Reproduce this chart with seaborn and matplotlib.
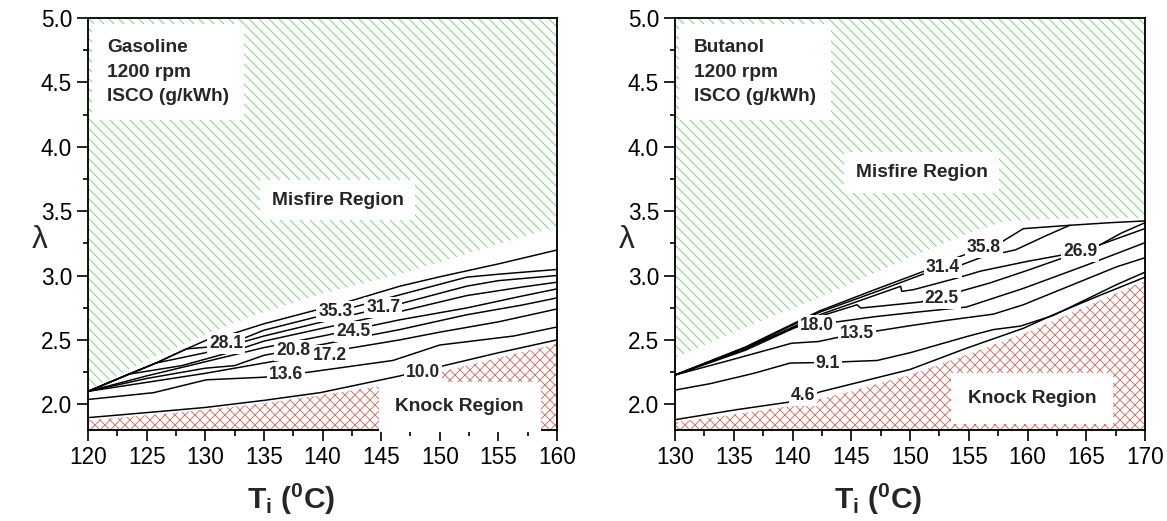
import numpy as np
import pandas as pd
import matplotlib
matplotlib.use("Agg")
import matplotlib.pyplot as plt
from matplotlib.ticker import MultipleLocator
import seaborn as sns

# ---------------- Gasoline panel data ----------------
gas_l1_x = [120, 123.5, 125.8, 128.4, 130.4, 132.4, 135, 142.3, 146.6, 150, 155, 160]
gas_l1_y = [2.10, 2.234, 2.32, 2.43, 2.51, 2.55, 2.625, 2.80, 2.917, 2.99, 3.09, 3.198]
gas_l2_x = [120, 123.5, 125.8, 128.4, 131, 133.5, 135, 140, 146.6, 152.3, 155, 160]
gas_l2_y = [2.10, 2.234, 2.32, 2.43, 2.45, 2.52, 2.575, 2.69, 2.85, 2.987, 3.01, 3.047]
gas_l3_x = [120, 123.5, 125.8, 130, 135, 140, 146.6, 152.3, 155, 160]
gas_l3_y = [2.10, 2.234, 2.32, 2.40, 2.53, 2.64, 2.78, 2.917, 2.96, 3.0]
gas_l4_x = [120, 123.5, 128, 132, 135, 140, 146.6, 152.3, 157, 160]
gas_l4_y = [2.10, 2.234, 2.30, 2.40, 2.49, 2.59, 2.72, 2.844, 2.91, 2.948]
gas_l5_x = [120, 125, 130, 135, 140, 146.6, 152.3, 157, 160]
gas_l5_y = [2.10, 2.22, 2.33, 2.44, 2.53, 2.656, 2.748, 2.84, 2.896]
gas_l6_x = [120, 125, 130, 132.5, 135, 140, 146.6, 152.3, 157, 160]
gas_l6_y = [2.10, 2.20, 2.28, 2.30, 2.38, 2.465, 2.58, 2.695, 2.77, 2.826]
gas_l7_x = [120, 125, 130, 135, 140, 146.6, 150, 155, 160]
gas_l7_y = [2.10, 2.17, 2.24, 2.32, 2.40, 2.5, 2.56, 2.64, 2.74]
gas_l8_x = [120, 125.6, 130.1, 135, 138.9, 146.0, 148, 150, 156.3, 160]
gas_l8_y = [2.037, 2.09, 2.19, 2.21, 2.25, 2.34, 2.40, 2.46, 2.53, 2.60]
gas_l9_x = [120, 125, 130, 135, 139.8, 146.6, 150.6, 155, 160]
gas_l9_y = [1.896, 1.935, 1.975, 2.03, 2.09, 2.22, 2.305, 2.40, 2.50]

gas_misfire_x = [120, 125, 130, 133.8, 140, 146.6, 156.3, 160]
gas_misfire_y = [2.11, 2.34, 2.54, 2.68, 2.86, 3.01, 3.28, 3.38]
gas_knock_x = [120, 127, 134.4, 139.8, 145.5, 150, 155, 160]
gas_knock_y = [1.875, 1.93, 2.0, 2.07, 2.15, 2.25, 2.36, 2.47]

gas_label_text = ["35.3", "31.7", "28.1", "24.5", "20.8", "17.2", "13.6", "10.0"]
gas_label_x = [141.1, 145.2, 131.8, 142.6, 137.5, 140.6, 136.9, 148.6]
gas_label_y = [2.72, 2.75, 2.47, 2.565, 2.42, 2.38, 2.234, 2.25]

# ---------------- Butanol panel data ----------------
but_l358_x = [130, 136, 142.3, 147, 151.1, 154.1, 156.3, 157.7, 159.65, 163.6, 167, 170]
but_l358_y = [2.227, 2.445, 2.725, 2.89, 3.03, 3.143, 3.216, 3.255, 3.364, 3.39, 3.41, 3.424]
but_l314_x = [130, 136, 142.3, 147, 151.1, 154, 156, 159, 161.6, 163.6]
but_l314_y = [2.227, 2.44, 2.715, 2.87, 3.01, 3.07, 3.138, 3.2, 3.31, 3.39]
but_l269_x = [130, 136, 142.3, 149.2, 149.3, 150.3, 154, 156, 160, 164.5, 166, 168, 170]
but_l269_y = [2.227, 2.43, 2.695, 2.916, 2.877, 2.89, 2.98, 3.034, 3.11, 3.185, 3.23, 3.33, 3.41]
but_l225_x = [130, 136, 142.3, 145.5, 145.8, 150.9, 154, 156.8, 160, 165, 170]
but_l225_y = [2.227, 2.42, 2.682, 2.773, 2.747, 2.794, 2.87, 2.942, 3.04, 3.2, 3.365]
but_l180_x = [130, 135.7, 140.3, 143.4, 147, 150, 154.8, 159.65, 165, 170]
but_l180_y = [2.227, 2.43, 2.60, 2.635, 2.68, 2.71, 2.755, 2.90, 3.08, 3.255]
but_l135_x = [130, 135, 139.93, 142.2, 144.2, 146.9, 150, 153, 157.1, 159.65, 167.6, 170]
but_l135_y = [2.227, 2.35, 2.474, 2.487, 2.526, 2.565, 2.61, 2.65, 2.70, 2.773, 3.068, 3.138]
but_l91_x = [130, 133, 136.7, 139.8, 143, 147.2, 150, 155, 157.1, 159.4, 162.2, 167.6, 170]
but_l91_y = [2.11, 2.16, 2.24, 2.32, 2.325, 2.34, 2.40, 2.53, 2.58, 2.607, 2.69, 2.93, 3.026]
but_l46_x = [130, 135.25, 139.8, 142.34, 150, 154.8, 159.65, 162.2, 166, 170]
but_l46_y = [1.88, 1.958, 2.018, 2.096, 2.27, 2.435, 2.59, 2.695, 2.84, 2.987]

but_misfire_x = [130, 135, 142.3, 150, 155, 158, 162, 170]
but_misfire_y = [2.36, 2.56, 2.83, 3.14, 3.33, 3.42, 3.44, 3.45]
but_knock_x = [130, 135, 140, 145, 150, 155, 160, 165, 170]
but_knock_y = [1.86, 1.92, 1.99, 2.10, 2.23, 2.39, 2.56, 2.76, 2.96]

but_label_text = ["35.8", "31.4", "26.9", "22.5", "18.0", "13.5", "9.1", "4.6"]
but_label_x = [156.3, 152.8, 164.5, 152.7, 142.1, 145.5, 143.0, 140.9]
but_label_y = [3.216, 3.06, 3.185, 2.818, 2.61, 2.547, 2.32, 2.07]

gas_ticks = [120, 125, 130, 135, 140, 145, 150, 155, 160]
but_ticks = [130, 135, 140, 145, 150, 155, 160, 165, 170]
y_ticks = [2.0, 2.5, 3.0, 3.5, 4.0, 4.5, 5.0]

# ---------------- style ----------------
sns.set_theme(style="ticks")
plt.rcParams['font.family'] = ['Liberation Sans', 'DejaVu Sans']
plt.rcParams['mathtext.fontset'] = 'custom'
plt.rcParams['mathtext.rm'] = 'Liberation Sans'
plt.rcParams['mathtext.bf'] = 'Liberation Sans:bold'
plt.rcParams['mathtext.it'] = 'Liberation Sans:italic'
plt.rcParams['hatch.linewidth'] = 0.6

DPI = 120
fig = plt.figure(figsize=(1167 / DPI, 521 / DPI), dpi=DPI)
ax1 = fig.add_axes([88 / 1167, 91 / 521, 469 / 1167, 412 / 521])
ax2 = fig.add_axes([675 / 1167, 91 / 521, 470 / 1167, 412 / 521])

GREEN = '#7fd67f'
RED = '#cf7a6f'
BACK_HATCH = chr(92) * 4
CROSS_HATCH = 'xxxx'


def build_df(xs, ys):
    frames = []
    for i, (x, y) in enumerate(zip(xs, ys)):
        frames.append(pd.DataFrame({'T': x, 'lam': y, 'line': i}))
    return pd.concat(frames, ignore_index=True)


def draw_panel(ax, lines_x, lines_y, mis_x, mis_y, knock_x, knock_y,
               lab_t, lab_x, lab_y, xlim, xticks, title_lines, tx, misfire_pos, knock_pos):
    ax.fill_between(mis_x, mis_y, 5.0, facecolor='none', edgecolor=GREEN,
                    hatch=BACK_HATCH, linewidth=0, zorder=0.5)
    ax.fill_between(knock_x, 1.8, knock_y, facecolor='none', edgecolor=RED,
                    hatch=CROSS_HATCH, linewidth=0, zorder=0.5)
    df = build_df(lines_x, lines_y)
    sns.lineplot(data=df, x='T', y='lam', units='line', estimator=None, sort=False,
                 color='black', linewidth=0.9, ax=ax, legend=False, zorder=2)
    for t, x, y in zip(lab_t, lab_x, lab_y):
        ax.text(x, y, t, fontsize=10.5, fontweight='bold', ha='center', va='center',
                zorder=3, bbox=dict(facecolor='white', edgecolor='none', pad=1.2))
    ax.text(tx, 4.58, title_lines, fontsize=11.5, fontweight='bold', ha='left', va='center',
            linespacing=1.55, zorder=3,
            bbox=dict(facecolor='white', edgecolor='none', pad=9))
    ax.text(misfire_pos[0], misfire_pos[1], 'Misfire Region', fontsize=11.5, fontweight='bold',
            ha='center', va='center', zorder=3,
            bbox=dict(facecolor='white', edgecolor='none', pad=7))
    ax.text(knock_pos[0], knock_pos[1], 'Knock Region', fontsize=11.5, fontweight='bold',
            ha='center', va='center', zorder=3,
            bbox=dict(facecolor='white', edgecolor='none', pad=10))

    ax.set_xlim(*xlim)
    ax.set_ylim(1.8, 5.0)
    ax.set_xticks(xticks)
    ax.set_yticks(y_ticks)
    ax.set_xticklabels([str(v) for v in xticks])
    ax.set_yticklabels([f"{v:.1f}" for v in y_ticks])
    ax.xaxis.set_minor_locator(MultipleLocator(2.5))
    ax.yaxis.set_minor_locator(MultipleLocator(0.25))
    ax.tick_params(which='major', direction='out', length=6.5, width=1.0, labelsize=13.5,
                   color='black', labelcolor='black', top=False, right=False, pad=3)
    ax.tick_params(which='minor', direction='out', length=3.3, width=1.0,
                   color='black', top=False, right=False)
    for sp in ax.spines.values():
        sp.set_visible(True)
        sp.set_linewidth(1.1)
        sp.set_color('black')
    ax.set_xlabel(r'$\mathbf{T_i\ (^0C)}$', fontsize=18)
    ax.xaxis.set_label_coords(0.433, -0.125)
    ax.set_ylabel('λ', fontsize=19, rotation=0, ha='center', va='center')
    ax.yaxis.set_label_coords(-0.102, 0.461)
    ax.set_facecolor('white')


draw_panel(ax1,
           [gas_l1_x, gas_l2_x, gas_l3_x, gas_l4_x, gas_l5_x, gas_l6_x, gas_l7_x, gas_l8_x, gas_l9_x],
           [gas_l1_y, gas_l2_y, gas_l3_y, gas_l4_y, gas_l5_y, gas_l6_y, gas_l7_y, gas_l8_y, gas_l9_y],
           gas_misfire_x, gas_misfire_y, gas_knock_x, gas_knock_y,
           gas_label_text, gas_label_x, gas_label_y,
           (120, 160), gas_ticks, 'Gasoline\n1200 rpm\nISCO (g/kWh)', 121.6,
           (141.3, 3.586), (151.7, 1.981))

draw_panel(ax2,
           [but_l358_x, but_l314_x, but_l269_x, but_l225_x, but_l180_x, but_l135_x, but_l91_x, but_l46_x],
           [but_l358_y, but_l314_y, but_l269_y, but_l225_y, but_l180_y, but_l135_y, but_l91_y, but_l46_y],
           but_misfire_x, but_misfire_y, but_knock_x, but_knock_y,
           but_label_text, but_label_x, but_label_y,
           (130, 170), but_ticks, 'Butanol\n1200 rpm\nISCO (g/kWh)', 131.6,
           (151.0, 3.80), (160.4, 2.046))

fig.savefig('out.png', dpi=DPI)
